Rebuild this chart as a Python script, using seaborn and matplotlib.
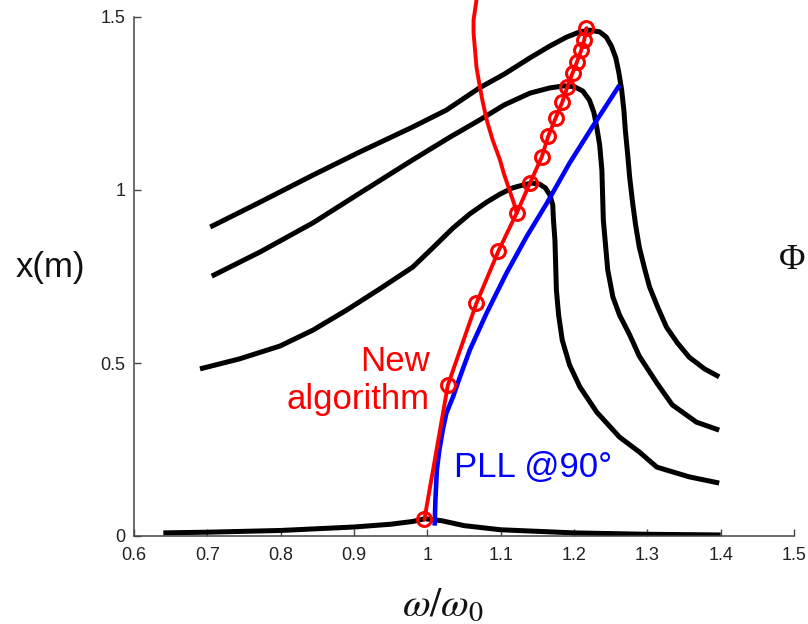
import numpy as np
import pandas as pd
import matplotlib
matplotlib.use("Agg")
import matplotlib.pyplot as plt
import seaborn as sns

# ---- data ----
# small-forcing response curve
c0_x = [0.64, 0.70, 0.80, 0.90, 0.95, 0.980, 0.997, 1.02, 1.05, 1.10, 1.20, 1.30, 1.40]
c0_y = [0.009, 0.011, 0.016, 0.026, 0.034, 0.042, 0.050, 0.044, 0.030, 0.018, 0.009, 0.005, 0.003]

# lowest large response curve
c1_x = [0.690, 0.744, 0.799, 0.844, 0.890, 0.935, 0.980, 1.007, 1.035, 1.058, 1.081, 1.099,
        1.116, 1.130, 1.142, 1.153, 1.161, 1.167, 1.171, 1.172, 1.174, 1.175, 1.176, 1.179,
        1.184, 1.194, 1.208, 1.231, 1.262, 1.289, 1.313, 1.357, 1.398]
c1_y = [0.483, 0.512, 0.549, 0.595, 0.653, 0.714, 0.777, 0.832, 0.890, 0.931, 0.965, 0.988,
        1.006, 1.014, 1.020, 1.017, 1.006, 0.986, 0.957, 0.913, 0.855, 0.783, 0.711, 0.639,
        0.566, 0.494, 0.431, 0.358, 0.286, 0.243, 0.199, 0.171, 0.153]

# middle response curve
c2_x = [0.706, 0.772, 0.844, 0.908, 0.980, 1.031, 1.071, 1.105, 1.140, 1.167, 1.187, 1.201,
        1.212, 1.221, 1.227, 1.231, 1.235, 1.238, 1.239, 1.240, 1.243, 1.246, 1.253, 1.262,
        1.276, 1.289, 1.313, 1.334, 1.367, 1.398]
c2_y = [0.751, 0.821, 0.905, 0.991, 1.087, 1.153, 1.202, 1.246, 1.280, 1.295, 1.301, 1.298,
        1.286, 1.260, 1.225, 1.182, 1.130, 1.058, 0.986, 0.913, 0.841, 0.769, 0.691, 0.639,
        0.581, 0.520, 0.442, 0.379, 0.329, 0.306]

# top response curve
c3_x = [0.704, 0.772, 0.844, 0.908, 0.980, 1.026, 1.071, 1.105, 1.140, 1.167, 1.190, 1.208,
        1.221, 1.235, 1.244, 1.251, 1.257, 1.261, 1.265, 1.268, 1.270, 1.273, 1.276, 1.280,
        1.284, 1.289, 1.296, 1.303, 1.314, 1.326, 1.341, 1.357, 1.378, 1.398]
c3_y = [0.893, 0.965, 1.043, 1.110, 1.182, 1.231, 1.295, 1.335, 1.382, 1.416, 1.442, 1.457,
        1.462, 1.457, 1.442, 1.416, 1.382, 1.341, 1.289, 1.231, 1.173, 1.107, 1.035, 0.962,
        0.899, 0.835, 0.775, 0.720, 0.662, 0.604, 0.558, 0.517, 0.483, 0.460]

# new algorithm (markers)
new_x = [0.996, 1.028, 1.067, 1.097, 1.122, 1.140, 1.156, 1.165, 1.175, 1.184,
         1.191, 1.198, 1.204, 1.210, 1.214, 1.217]
new_y = [0.048, 0.436, 0.673, 0.824, 0.934, 1.020, 1.095, 1.156, 1.208, 1.254,
         1.298, 1.338, 1.370, 1.405, 1.434, 1.468]

# red trajectory coming from the top
traj_x = [1.071, 1.067, 1.065, 1.063, 1.063, 1.065, 1.067, 1.071, 1.075, 1.081, 1.089,
          1.099, 1.105, 1.112, 1.118, 1.122]
traj_y = [1.584, 1.549, 1.520, 1.491, 1.454, 1.405, 1.355, 1.306, 1.260, 1.202, 1.145,
          1.087, 1.043, 1.000, 0.962, 0.934]

# PLL @ 90 deg
pll_x = [1.010, 1.011, 1.013, 1.016, 1.021, 1.026, 1.035, 1.044, 1.058, 1.081, 1.108,
         1.135, 1.163, 1.194, 1.225, 1.262]
pll_y = [0.030, 0.104, 0.191, 0.243, 0.306, 0.355, 0.402, 0.457, 0.538, 0.645, 0.760,
         0.864, 0.962, 1.078, 1.182, 1.303]

x_ticks = [0.6, 0.7, 0.8, 0.9, 1.0, 1.1, 1.2, 1.3, 1.4, 1.5]
x_tick_labels = ["0.6", "0.7", "0.8", "0.9", "1", "1.1", "1.2", "1.3", "1.4", "1.5"]
y_ticks = [0, 0.5, 1, 1.5]
y_tick_labels = ["0", "0.5", "1", "1.5"]

# ---- plotting ----
sns.set_theme(style="ticks")
plt.rcParams["font.family"] = ["Liberation Sans", "DejaVu Sans"]
plt.rcParams["mathtext.fontset"] = "stix"

fig = plt.figure(figsize=(8.08, 6.24), dpi=100)
ax = fig.add_axes([134 / 808, 88 / 624, 660 / 808, 519 / 624])

def df(x, y):
    return pd.DataFrame({"x": x, "y": y})

for cx, cy in [(c0_x, c0_y), (c1_x, c1_y), (c2_x, c2_y), (c3_x, c3_y)]:
    sns.lineplot(data=df(cx, cy), x="x", y="y", sort=False, estimator=None,
                 color="black", linewidth=3.6, ax=ax, solid_capstyle="butt",
                 solid_joinstyle="round")

sns.lineplot(data=df(pll_x, pll_y), x="x", y="y", sort=False, estimator=None,
             color="#0000ff", linewidth=3.3, ax=ax, solid_capstyle="butt",
             solid_joinstyle="round")

sns.lineplot(data=df(traj_x, traj_y), x="x", y="y", sort=False, estimator=None,
             color="#ff0000", linewidth=2.8, ax=ax, solid_joinstyle="round")
ax.lines[-1].set_clip_on(False)

sns.lineplot(data=df(new_x, new_y), x="x", y="y", sort=False, estimator=None,
             color="#ff0000", linewidth=2.8, marker="o", markersize=10,
             markerfacecolor="none", markeredgecolor="#ff0000", markeredgewidth=2.2, ax=ax)

ax.set_xlim(0.6, 1.5)
ax.set_ylim(0, 1.5)
ax.set_xticks(x_ticks)
ax.set_xticklabels(x_tick_labels)
ax.set_yticks(y_ticks)
ax.set_yticklabels(y_tick_labels)
ax.tick_params(direction="in", length=5, width=1, colors="#444444", labelsize=13,
               labelcolor="#222222")
ax.tick_params(axis="x", pad=8)
ax.tick_params(axis="y", pad=6)
for s in ["top", "right"]:
    ax.spines[s].set_visible(False)
for s in ["left", "bottom"]:
    ax.spines[s].set_color("#444444")
    ax.spines[s].set_linewidth(1.1)

ax.set_xlabel(r"$\omega/\omega_0$", fontsize=29, color="#111111")
ax.xaxis.set_label_coords((443 - 134) / 660, -0.095)
ax.set_ylabel("x(m)", fontsize=25, rotation=0, ha="center", va="center", color="#111111")
ax.yaxis.set_label_coords((50 - 134) / 660, 0.517)

ax.text(1.003, 0.450, "New\nalgorithm", color="#ff0000", fontsize=25,
        ha="right", va="center", multialignment="right")
ax.text(1.037, 0.171, "PLL @90°", color="#0000ff", fontsize=25, ha="left", va="baseline")
fig.text(792 / 808, 1 - 260 / 624, "Φ", fontsize=26, family="Liberation Serif",
         ha="center", va="center", color="#111111")

fig.savefig("out.png", dpi=100)
